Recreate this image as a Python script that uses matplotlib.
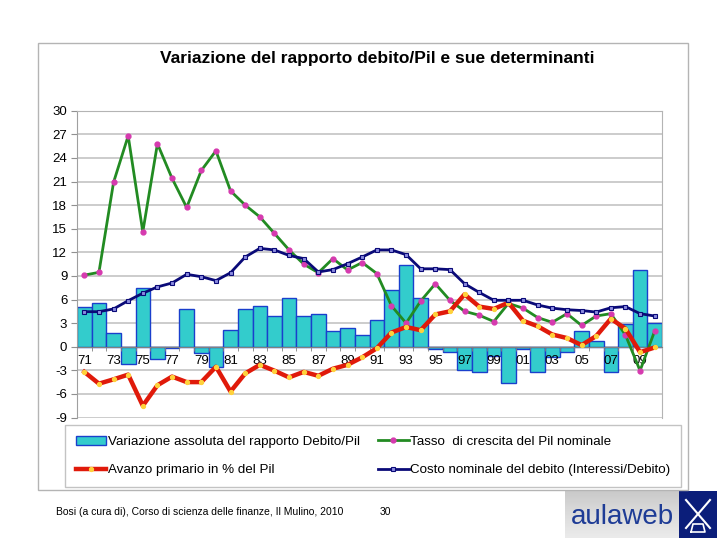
import matplotlib
matplotlib.use("Agg")
import matplotlib.pyplot as plt
import numpy as np
from matplotlib.patches import Rectangle, Patch
from matplotlib.lines import Line2D

plt.rcParams['font.family'] = ['Liberation Sans', 'DejaVu Sans']

years = list(range(1971, 2011))
year_labels = [f"{y % 100:02d}" for y in years]

var_debito_pil = [5.1, 5.6, 1.8, -2.25, 7.4, -1.55, -0.2, 4.75, -0.85, -2.55,
                  2.1, 4.8, 5.2, 3.95, 6.15, 3.95, 4.1, 1.95, 2.4, 1.55,
                  3.35, 7.15, 10.4, 6.25, -0.35, -0.7, -2.95, -3.2, -1.2, -4.6,
                  -0.35, -3.2, -1.3, -0.65, 2.0, 0.7, -3.2, 2.9, 9.75, 2.95]
crescita_pil = [9.1, 9.45, 20.9, 26.8, 14.6, 25.8, 21.4, 17.7, 22.4, 24.9,
                19.8, 18.0, 16.5, 14.4, 12.3, 10.5, 9.4, 11.2, 9.75, 10.7,
                9.3, 5.2, 3.0, 5.8, 8.0, 5.9, 4.5, 4.0, 3.2, 5.5,
                4.9, 3.7, 3.1, 4.2, 2.7, 3.9, 4.2, 1.5, -3.05, 2.0]
avanzo_primario = [-3.2, -4.7, -4.15, -3.55, -7.5, -4.9, -3.8, -4.5, -4.5, -2.55,
                   -5.7, -3.4, -2.3, -3.05, -3.9, -3.2, -3.7, -2.8, -2.3, -1.35,
                   -0.2, 1.8, 2.5, 2.1, 4.1, 4.5, 6.65, 5.1, 4.8, 5.6,
                   3.3, 2.6, 1.55, 1.1, 0.2, 1.35, 3.55, 2.3, -0.7, -0.1]
costo_debito = [4.45, 4.45, 4.8, 5.85, 6.8, 7.6, 8.1, 9.2, 8.9, 8.4,
                9.4, 11.4, 12.5, 12.3, 11.6, 11.2, 9.5, 9.8, 10.55, 11.4,
                12.3, 12.3, 11.7, 9.9, 9.9, 9.8, 8.0, 6.9, 5.9, 5.9,
                5.9, 5.3, 4.9, 4.7, 4.6, 4.4, 4.95, 5.1, 4.2, 3.9]

series_names = ["Variazione assoluta del rapporto Debito/Pil",
                "Tasso  di crescita del Pil nominale",
                "Avanzo primario in % del Pil",
                "Costo nominale del debito (Interessi/Debito)"]
title = "Variazione del rapporto debito/Pil e sue determinanti"
yticks = list(range(-9, 31, 3))

W, H = 720, 540
fig = plt.figure(figsize=(7.2, 5.4), dpi=100)

def fx(px):
    return px / W

def fy(py):
    return 1 - py / H

# outer chart frame
fig.patches.append(Rectangle((fx(38), fy(490)), fx(688) - fx(38), fy(43) - fy(490),
                             transform=fig.transFigure, fill=False,
                             edgecolor='#B4B4B4', linewidth=1.0))

fig.text(fx(377), fy(58), title, ha='center', va='center',
         fontsize=12.5, fontweight='bold')

ax = fig.add_axes([fx(77), fy(417.5), fx(662) - fx(77), fy(110.7) - fy(417.5)])
x = np.arange(len(years))

for yv in yticks:
    ax.axhline(yv, color='#C4C4C4', linewidth=1.2, zorder=0.5)

bars = ax.bar(x, var_debito_pil, width=1.0, color='#33CCCC',
              edgecolor='#1A3FCC', linewidth=1.0, zorder=1)
l_green, = ax.plot(x, crescita_pil, color='#228B22', linewidth=2.0,
                   marker='o', markersize=3.5, markerfacecolor='#D63AAF',
                   markeredgecolor='#D63AAF', zorder=3)
l_blue, = ax.plot(x, costo_debito, color='#0A0A78', linewidth=2.0,
                  marker='s', markersize=3.5, markerfacecolor='#8C8CE0',
                  markeredgecolor='#0A0A78', markeredgewidth=0.8, zorder=4)
l_red, = ax.plot(x, avanzo_primario, color='#E01A0A', linewidth=3.2,
                 marker='o', markersize=2.8, markerfacecolor='#FFD23C',
                 markeredgecolor='#FFD23C', zorder=3.5)

ax.set_xlim(-0.5, len(years) - 0.5)
ax.set_ylim(-9, 30)
ax.set_yticks(yticks)
ax.set_yticklabels([str(v) for v in yticks], fontsize=9.5)
ax.tick_params(axis='y', direction='out', length=4, color='#909090', pad=3)

ax.spines['bottom'].set_position(('data', 0))
ax.spines['bottom'].set_color('#808080')
ax.spines['left'].set_color('#A0A0A0')
ax.spines['top'].set_color('#B4B4B4')
ax.spines['right'].set_color('#B4B4B4')
ax.set_axisbelow('line')
ax.set_xticks(x[::2])
ax.set_xticklabels(year_labels[::2], fontsize=9.5)
ax.set_xticks(np.arange(-0.5, len(years), 1.0), minor=True)
ax.tick_params(axis='x', which='major', length=0, pad=6)
ax.tick_params(axis='x', which='minor', direction='out', length=3, color='#808080')
ax.grid(False)

handles = [Patch(facecolor='#33CCCC', edgecolor='#1A3FCC', linewidth=1.0),
           Line2D([], [], color='#E01A0A', linewidth=3.2, marker='o', markersize=2.8,
                  markerfacecolor='#FFD23C', markeredgecolor='#FFD23C'),
           Line2D([], [], color='#228B22', linewidth=2.0, marker='o', markersize=3.5,
                  markerfacecolor='#D63AAF', markeredgecolor='#D63AAF'),
           Line2D([], [], color='#0A0A78', linewidth=2.0, marker='s', markersize=3.5,
                  markerfacecolor='#8C8CE0', markeredgecolor='#0A0A78',
                  markeredgewidth=0.8)]
labels = [series_names[0], series_names[2], series_names[1], series_names[3]]
leg = fig.legend(handles, labels, ncol=2, loc='center',
                 bbox_to_anchor=(fx(65), fy(488), fx(681) - fx(65), fy(424) - fy(488)),
                 mode='expand', fontsize=9.6, frameon=True, fancybox=False,
                 edgecolor='#B4B4B4', borderpad=0.8, labelspacing=1.2,
                 handlelength=2.3, handletextpad=0.1, borderaxespad=0.0,
                 columnspacing=1.0)
leg.get_frame().set_linewidth(1.0)

# footer
fig.text(fx(56), fy(512), "Bosi (a cura di), Corso di scienza delle finanze, Il Mulino, 2010",
         fontsize=7.5, ha='left', va='center')
fig.text(fx(380), fy(512), "30", fontsize=7.5, ha='left', va='center')

# logo
lax = fig.add_axes([fx(565), fy(538), fx(717) - fx(565), fy(491) - fy(538)])
grad = np.linspace(0.0, 1.0, 60).reshape(-1, 1)
lax.imshow(grad, cmap='Greys', vmin=-0.9, vmax=5.0, aspect='auto',
           extent=(0, 152, 0, 47), origin='lower')
lax.add_patch(Rectangle((114, 0), 38, 47, facecolor='#0B1E7A', edgecolor='none'))
lax.text(57, 21, "aulaweb", color='#1E3C96', fontsize=20, ha='center', va='center')
lax.plot([121, 145], [38, 10], color='white', linewidth=1.5)
lax.plot([121, 145], [10, 38], color='white', linewidth=1.5)
lax.plot([126, 140, 138, 128, 126], [6, 6, 14, 14, 6], color='white', linewidth=1.2)
lax.set_xlim(0, 152)
lax.set_ylim(0, 47)
lax.axis('off')

fig.savefig("out.png", dpi=100)
